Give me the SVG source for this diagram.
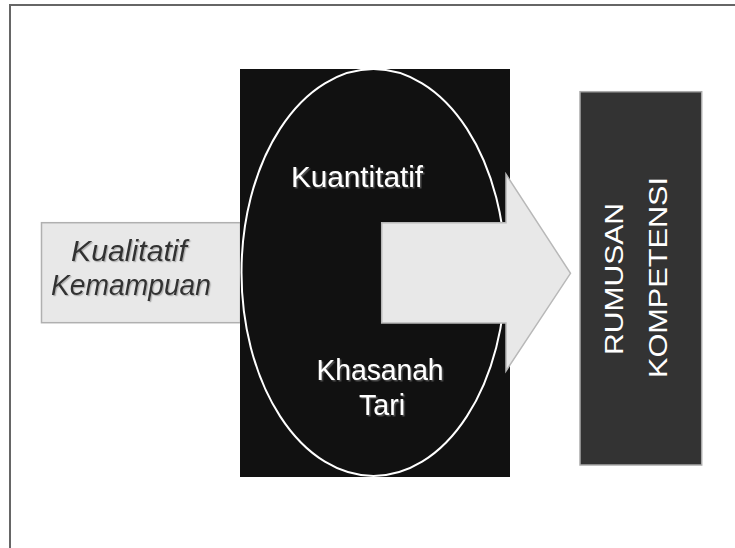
<svg xmlns="http://www.w3.org/2000/svg" width="735" height="548" viewBox="0 0 735 548">
<defs>
<filter id="sh" x="-10%" y="-20%" width="130%" height="150%">
<feDropShadow dx="1.5" dy="1.5" stdDeviation="0.6" flood-color="#555" flood-opacity="0.9"/>
</filter>
<filter id="shl" x="-10%" y="-20%" width="130%" height="150%">
<feDropShadow dx="1.2" dy="1.2" stdDeviation="0.6" flood-color="#999" flood-opacity="0.7"/>
</filter>
</defs>
<style>
.lbl{font-family:"Liberation Sans",Arial,sans-serif;font-size:29.5px;text-anchor:middle}
.wt{fill:#ffffff}
.it{fill:#333333;font-style:italic}
.vt{font-family:"Liberation Sans",Arial,sans-serif;font-size:25px;fill:#ffffff;text-anchor:middle}
</style>
<rect x="10" y="5" width="740" height="560" fill="#ffffff" stroke="#666666" stroke-width="2"/>
<g id="left-box">
<rect x="41.5" y="222.7" width="199" height="100" fill="#e8e8e8" stroke="#b0b0b0" stroke-width="1.5"/>
<text class="lbl it" x="129" y="261" textLength="116" lengthAdjust="spacingAndGlyphs" filter="url(#shl)">Kualitatif</text>
<text class="lbl it" x="131" y="295" textLength="160" lengthAdjust="spacingAndGlyphs" filter="url(#shl)">Kemampuan</text>
</g>
<g id="center-node">
<rect x="240" y="69" width="270" height="408" fill="#111111"/>
<ellipse cx="373.5" cy="272.5" rx="132" ry="203.5" fill="#111111" stroke="#ffffff" stroke-width="2"/>
<text class="lbl wt" x="357" y="187" textLength="132" lengthAdjust="spacingAndGlyphs" filter="url(#sh)">Kuantitatif</text>
<text class="lbl wt" x="380" y="380" textLength="127" lengthAdjust="spacingAndGlyphs" filter="url(#sh)">Khasanah</text>
<text class="lbl wt" x="382" y="415" textLength="46" lengthAdjust="spacingAndGlyphs" filter="url(#sh)">Tari</text>
</g>
<g id="connectors">
<polygon points="381.7,222.7 506,222.7 506,174.3 570.5,273.3 506,371 506,323 381.7,323" fill="#e8e8e8" stroke="#b8b8b8" stroke-width="1.5"/>
</g>
<g id="right-box">
<rect x="580" y="91.7" width="121.7" height="373.3" fill="#333333" stroke="#aaaaaa" stroke-width="1.5"/>
<text class="vt" transform="translate(623,279) rotate(-90)" x="0" y="0" textLength="152" lengthAdjust="spacingAndGlyphs">RUMUSAN</text>
<text class="vt" transform="translate(667,277.5) rotate(-90)" x="0" y="0" textLength="201" lengthAdjust="spacingAndGlyphs">KOMPETENSI</text>
</g>
</svg>
